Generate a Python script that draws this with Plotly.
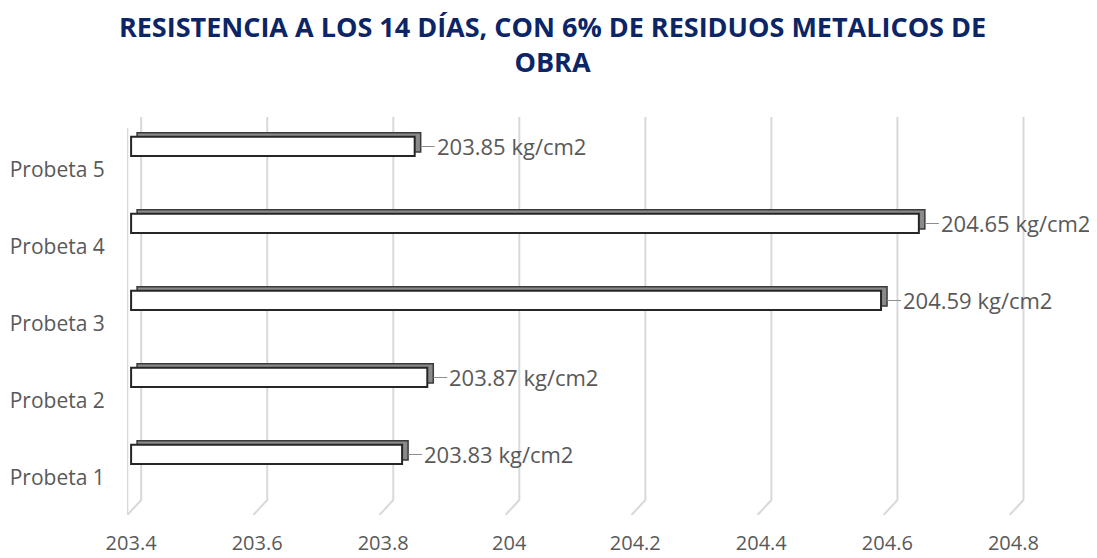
import plotly.graph_objects as go

# ---- data ----
categories = ["Probeta 1", "Probeta 2", "Probeta 3", "Probeta 4", "Probeta 5"]
values = [203.83, 203.87, 204.59, 204.65, 203.85]
labels = ["203.83 kg/cm2", "203.87 kg/cm2", "204.59 kg/cm2", "204.65 kg/cm2", "203.85 kg/cm2"]
x_ticks = [203.4, 203.6, 203.8, 204.0, 204.2, 204.4, 204.6, 204.8]
x_tick_text = ["203.4", "203.6", "203.8", "204", "204.2", "204.4", "204.6", "204.8"]
title_text = "RESISTENCIA A LOS 14 DÍAS, CON 6% DE RESIDUOS METALICOS DE<br>OBRA"

BASE = 203.4
pos = list(range(1, len(categories) + 1))
lengths = [v - BASE for v in values]

# 3D look parameters (drawing only)
DEPTH_X = 0.0095
DEPTH_Y = 0.052
OFF = 0.18
W = 0.25
X0, X1 = 203.3935, 204.82
Y0, Y1 = 0.519, 5.688
GRID_SHIFT = 0.016
FOOT = 0.006
FLOOR = 0.714
WALL_TOP = 5.545

FONT = "Open Sans"
GRAY = "#595959"
GRID = "#d9d9d9"

fig = go.Figure()

# depth (top/side) face
fig.add_trace(go.Bar(
    y=pos, x=lengths, base=[BASE + DEPTH_X] * len(pos), orientation="h",
    offset=OFF + DEPTH_Y, width=W,
    marker=dict(color="#8a8a8a", line=dict(color="#3a3a3a", width=1.5)),
    hoverinfo="skip", showlegend=False,
))
# front face
fig.add_trace(go.Bar(
    y=pos, x=lengths, base=[BASE] * len(pos), orientation="h",
    offset=OFF, width=W,
    marker=dict(color="white", line=dict(color="#262626", width=2)),
    showlegend=False,
))

# 3D-like gridlines and left wall
shapes = []
for t in x_ticks:
    shapes.append(dict(
        type="path", xref="x", yref="y",
        path=f"M {t + GRID_SHIFT},{Y1} L {t + GRID_SHIFT},{FLOOR} L {t - FOOT},{Y0}",
        line=dict(color=GRID, width=2), layer="below",
    ))
shapes.append(dict(
    type="line", xref="x", yref="y", x0=BASE - FOOT, x1=BASE - FOOT, y0=Y0, y1=WALL_TOP,
    line=dict(color=GRID, width=2), layer="below",
))

annotations = []
for p, v, lab in zip(pos, values, labels):
    annotations.append(dict(
        x=v + DEPTH_X, y=p + OFF + W / 2, xref="x", yref="y",
        text=lab, showarrow=True, arrowhead=0, arrowwidth=1, arrowcolor="#8c8c8c",
        ax=14, ay=0, xanchor="left", yanchor="middle", standoff=0,
        font=dict(family=FONT, size=22, color=GRAY),
    ))

fig.update_layout(
    width=1089, height=550,
    paper_bgcolor="white", plot_bgcolor="white",
    barmode="overlay",
    margin=dict(l=119, r=71, t=109, b=43, autoexpand=False),
    title=dict(text=title_text, x=0.5, xanchor="center", yref="container", y=0.947, yanchor="top",
               font=dict(family=FONT, size=27, color="#0b2566", weight="bold")),
    xaxis=dict(range=[X0, X1], tickvals=x_ticks, ticktext=x_tick_text, automargin=False,
               showgrid=False, zeroline=False, showline=False,
               ticks="outside", ticklen=10, tickcolor="rgba(0,0,0,0)",
               tickfont=dict(family=FONT, size=20, color=GRAY)),
    yaxis=dict(range=[Y0, Y1], tickvals=pos, ticktext=categories, automargin=False,
               showgrid=False, zeroline=False, showline=False,
               ticks="outside", ticklen=17, tickcolor="rgba(0,0,0,0)",
               tickfont=dict(family=FONT, size=21, color=GRAY)),
    shapes=shapes,
    annotations=annotations,
)

fig.write_html("out.html")
